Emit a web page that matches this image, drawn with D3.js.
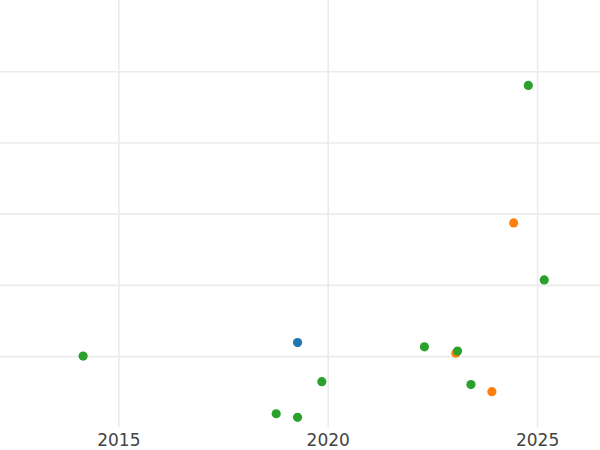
<!DOCTYPE html>
<html>
<head>
<meta charset="utf-8">
<script src="https://cdn.jsdelivr.net/npm/d3@7"></script>
<style>
  html, body { margin: 0; padding: 0; background: #fff; }
  svg { display: block; }
</style>
</head>
<body>
<svg id="chart" width="600" height="450"></svg>
<script>
// Data (year, value)
const blueYears   = [2019.28];
const blueValues  = [1.19];
const orangeYears  = [2023.06, 2023.92, 2024.44];
const orangeValues = [1.04, 0.50, 2.87];
const greenYears  = [2014.16, 2018.77, 2019.28, 2019.86, 2022.31, 2023.10, 2023.42, 2024.79, 2025.17];
const greenValues = [1.00, 0.19, 0.14, 0.64, 1.13, 1.07, 0.60, 4.80, 2.07];
const xTicks = [2015, 2020, 2025];
const yTicks = [1, 2, 3, 4, 5];

const series = [
  { name: "blue",   color: "#1f77b4", years: blueYears,   values: blueValues },
  { name: "orange", color: "#ff7f0e", years: orangeYears, values: orangeValues },
  { name: "green",  color: "#2ca02c", years: greenYears,  values: greenValues }
];

const W = 600, H = 450;
const plotBottom = 427.3;
const svg = d3.select("#chart");

const x = d3.scaleLinear().domain([2012.175, 2026.502]).range([0, W]);
const y = d3.scaleLinear().domain([0, 6]).range([plotBottom, 0]);

// horizontal grid
svg.append("g")
  .attr("class", "ygrid")
  .call(d3.axisLeft(y).tickValues(yTicks).tickSize(-W).tickFormat(""))
  .call(g => g.select(".domain").remove())
  .call(g => g.selectAll("line").attr("stroke", "#ebebeb").attr("stroke-width", 1.6));

// vertical grid
svg.append("g")
  .attr("class", "xgrid")
  .attr("transform", `translate(0,${plotBottom})`)
  .call(d3.axisBottom(x).tickValues(xTicks).tickSize(-plotBottom).tickFormat(""))
  .call(g => g.select(".domain").remove())
  .call(g => g.selectAll("line").attr("stroke", "#ebebeb").attr("stroke-width", 1.6));

// x tick labels
svg.append("g")
  .attr("class", "xaxis")
  .attr("transform", `translate(0,${plotBottom})`)
  .call(d3.axisBottom(x).tickValues(xTicks).tickSize(0).tickPadding(0).tickFormat(d3.format("d")))
  .call(g => g.select(".domain").remove())
  .call(g => g.selectAll("text")
    .attr("fill", "#444")
    .attr("font-family", "DejaVu Sans")
    .attr("font-size", 17)
    .attr("dy", null)
    .attr("y", 18.7));

// points
series.forEach(s => {
  const pts = s.years.map((yr, i) => ({ yr, v: s.values[i] }));
  svg.append("g")
    .selectAll("circle")
    .data(pts)
    .join("circle")
    .attr("cx", d => x(d.yr))
    .attr("cy", d => y(d.v))
    .attr("r", 4.6)
    .attr("fill", s.color);
});
</script>
</body>
</html>
